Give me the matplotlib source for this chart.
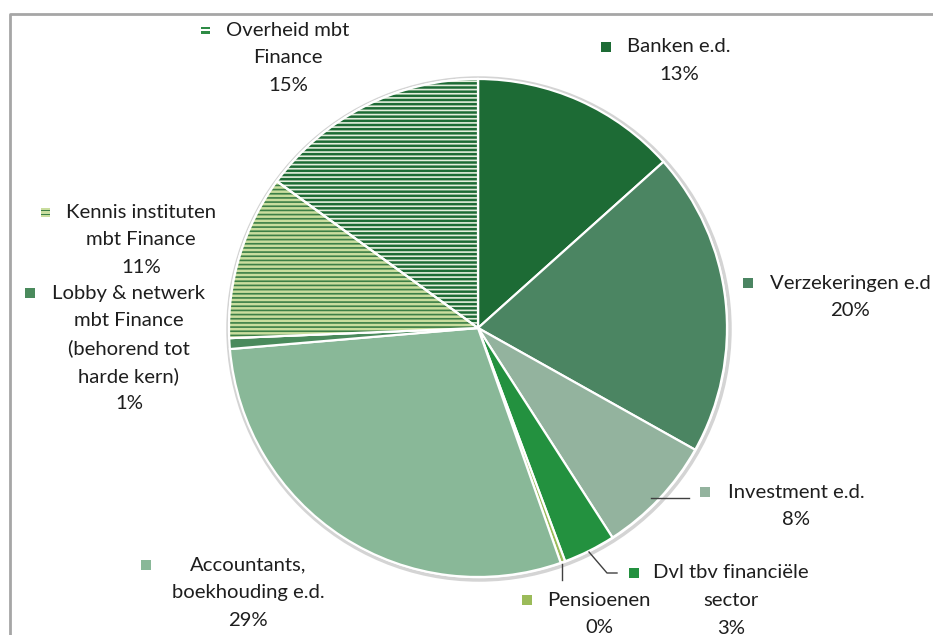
import matplotlib
matplotlib.use("Agg")
import matplotlib.pyplot as plt
from matplotlib.patches import Rectangle, Circle, Wedge
import numpy as np

plt.rcParams['font.family'] = ['Lato', 'DejaVu Sans']
plt.rcParams['hatch.linewidth'] = 1.2

# ---- data ----
categories = ["Banken e.d.", "Verzekeringen e.d", "Investment e.d.",
              "Dvl tbv financiële\nsector", "Pensioenen",
              "Accountants,\nboekhouding e.d.",
              "Lobby & netwerk\nmbt Finance\n(behorend tot\nharde kern)",
              "Kennis instituten\nmbt Finance", "Overheid mbt\nFinance"]
values = [13.4, 19.8, 7.8, 3.4, 0.3, 29.1, 0.7, 10.7, 15.0]
pct_labels = ["13%", "20%", "8%", "3%", "0%", "29%", "1%", "11%", "15%"]

colors = ["#1d6b35", "#4b8562", "#93b39e", "#23913f", "#9bbb59",
          "#89b898", "#4a8a5c", "#c9dd9e", "#1d6b35"]
hatch_colors = [None, None, None, None, None, None, None, "#3c7f46", "#e4eedd"]

W, H = 933, 635
fig = plt.figure(figsize=(W / 100, H / 100), dpi=100)
ax = fig.add_axes([0, 0, 1, 1])

def Y(y):
    return H - y

cx, cy, r = 478, Y(328), 249

# subtle shadow
ax.add_patch(Circle((cx + 1, cy - 1), r + 2, facecolor="none",
                    edgecolor="#d4d4d4", lw=2.5, zorder=0))

wedges, _ = ax.pie(values, colors=colors, startangle=90, counterclock=False,
                   center=(cx, cy), radius=r,
                   wedgeprops=dict(edgecolor="white", linewidth=1.6))

for w, hc in zip(wedges, hatch_colors):
    if hc:
        hw = Wedge(w.center, w.r, w.theta1, w.theta2, facecolor=w.get_facecolor(),
                   edgecolor=hc, linewidth=0, hatch="----", zorder=w.get_zorder() + 0.1)
        ax.add_patch(hw)
        ow = Wedge(w.center, w.r, w.theta1, w.theta2, facecolor="none",
                   edgecolor="white", linewidth=1.6, zorder=w.get_zorder() + 0.2)
        ax.add_patch(ow)

# ---- labels ----
# (marker x, marker y, text center x, first line y)
label_pos = [
    (606, 47, 679, 47),
    (748, 283, 850, 283),
    (705, 492, 796, 492),
    (634, 573, 731, 573),
    (527, 600, 599, 600),
    (146, 565, 248, 565),
    (30, 293, 129, 293),
    (45, 212, 141, 212),
    (205, 30, 288, 30),
]
line_h = 27.6
fs = 14.6
for i, (mx, my, tx, ty) in enumerate(label_pos):
    lines = categories[i].split("\n") + [pct_labels[i]]
    for k, ln in enumerate(lines):
        ax.text(tx, Y(ty + k * line_h), ln, ha="center", va="center",
                fontsize=fs, color="#1e1e1e", zorder=5)
    s = 9.5
    if hatch_colors[i]:
        if i == 8:
            for dy in (-2.5, 2.0):
                ax.add_patch(Rectangle((mx - 4.5, Y(my) + dy - 1), 9, 2.2,
                                       facecolor="#2e8b45", edgecolor="none", zorder=6))
        else:
            ax.add_patch(Rectangle((mx - 4.5, Y(my) - 4.5), 9, 9, facecolor=colors[i],
                                   edgecolor="none", zorder=5))
            for dy in (-2.5, 1.5):
                ax.add_patch(Rectangle((mx - 4.5, Y(my) + dy - 0.6), 9, 1.4,
                                       facecolor=hatch_colors[i], edgecolor="none", zorder=6))
    else:
        ax.add_patch(Rectangle((mx - s / 2, Y(my) - s / 2), s, s,
                               facecolor=colors[i], edgecolor="none", zorder=5))

# leader lines
lc = "#404040"
ax.plot([651, 689], [Y(498), Y(498)], color=lc, lw=1, zorder=4)
ax.plot([589, 607, 617], [Y(552), Y(573), Y(573)], color=lc, lw=1, zorder=4)
ax.plot([562, 562], [Y(564), Y(580)], color=lc, lw=1, zorder=4)

# chart frame
ax.plot([9.5, 9.5, 940], [-5, Y(14), Y(14)], color="#a6a6a6", lw=2, zorder=1,
        clip_on=False)

ax.set_xlim(0, W)
ax.set_ylim(0, H)
ax.set_aspect("equal")
ax.axis("off")

fig.savefig("out.png", dpi=100, facecolor="white")
